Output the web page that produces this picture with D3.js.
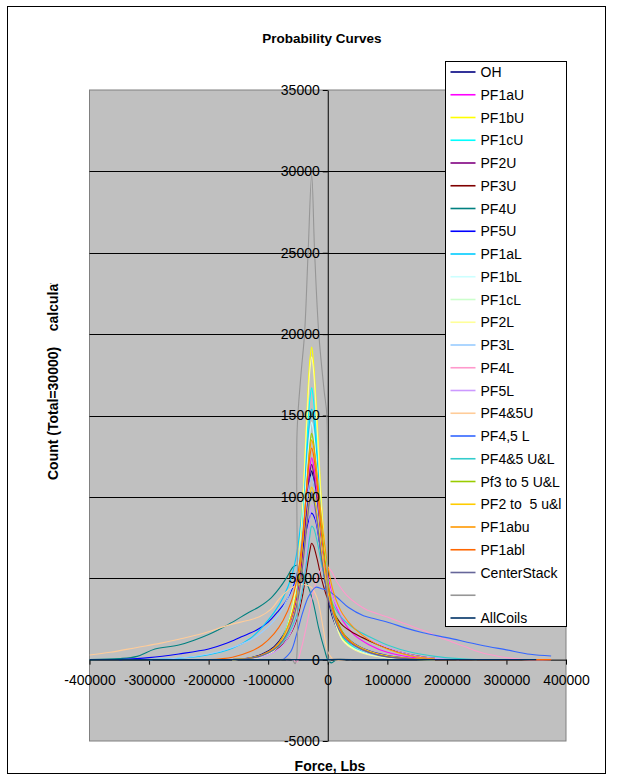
<!DOCTYPE html>
<html><head><meta charset="utf-8">
<script src="https://cdn.jsdelivr.net/npm/d3@7"></script>
<style>
body{margin:0;background:#fff}
svg{display:block}
text{font-family:"Liberation Sans",Arial,Helvetica,sans-serif;fill:#000}
</style>
</head><body>
<svg id="c" width="623" height="780"></svg>
<script>
// ---------- tick labels ----------
const X_TICKS = [-400000,-300000,-200000,-100000,0,100000,200000,300000,400000];
const Y_TICKS = [-5000,0,5000,10000,15000,20000,25000,30000,35000];
const GRID_VALUES = [5000,10000,15000,20000,25000,30000];

// ---------- series names (legend order) ----------
const SERIES_NAMES = ["OH","PF1aU","PF1bU","PF1cU","PF2U","PF3U","PF4U","PF5U","PF1aL","PF1bL","PF1cL","PF2L","PF3L","PF4L","PF5L","PF4&5U","PF4,5 L","PF4&5 U&L","Pf3 to 5 U&L","PF2 to  5 u&l","PF1abu","PF1abl","CenterStack","","AllCoils"];

// ---------- shared force grid for the narrow curves ----------
const GX = [-160000,-130000,-110000,-90000,-75000,-60000,-50000,-42000,-35000,-30000,-27000,-24000,-18000,-10000,0,10000,25000,45000,70000,100000,140000,180000];

const Y_OH          = [0,120,340,800,1500,2700,4300,6600,9400,11100,11600,11100,9300,6400,3800,2400,1300,800,420,180,50,0];
const Y_PF1aU       = [0,90,270,680,1350,2600,4300,6800,9800,11800,12400,12000,10400,7700,5200,3700,2400,1500,900,450,150,0];
const Y_PF1bU       = [0,60,200,600,1400,3200,5800,9900,15200,18400,19200,18300,14800,9400,4900,2700,1300,700,350,140,30,0];
const Y_PF1cU       = [0,70,230,650,1450,3100,5400,9000,13500,16000,16700,16000,13000,8600,4800,2800,1400,750,380,150,40,0];
const Y_PF2U        = [0,100,300,720,1400,2700,4400,6800,9800,11500,12000,11500,9700,6800,4200,2700,1500,900,480,200,60,0];
const Y_PF3U        = [0,80,220,520,950,1750,2700,4000,5600,6700,7150,7000,6200,4900,3700,2900,2100,1600,1150,700,300,80];
const Y_PF1bL       = [0,60,200,560,1300,2900,4900,8000,11600,13900,14600,14000,11600,7800,4400,2500,1200,650,320,120,30,0];
const Y_PF1cL       = [0,80,240,620,1300,2800,4700,7400,10800,12900,13600,13100,11000,7600,4500,2800,1500,850,450,180,50,0];
const Y_PF2L        = [0,50,180,560,1350,3100,5600,9600,14700,17800,18600,17800,14300,9000,4700,2600,1200,600,280,100,20,0];
const Y_PF3to5UL    = [0,100,280,700,1400,2800,4600,7300,10900,13200,13900,13400,11300,8000,4900,3100,1700,950,500,200,50,0];
const Y_PF2to5ul    = [0,90,270,660,1250,2400,3800,5900,8500,10100,10600,10300,8900,6500,4200,2800,1600,950,520,230,70,0];
const Y_PF1abu      = [0,100,300,720,1400,2800,4600,7300,10800,12900,13500,13100,11400,8500,5800,4100,2800,1900,1200,650,220,30];
const Y_CenterStack = [0,80,250,620,1200,2300,3700,5800,8300,9900,10300,9900,8500,6100,3900,2600,1450,850,430,170,40,0];

// ---------- curves with their own force values ----------
const X_PF4U = [-400000,-350000,-320000,-290000,-250000,-200000,-165000,-135000,-115000,-95000,-80000,-68000,-58000,-52000,-45000,-35000,-25000,-15000,-5000,0,6000,15000,30000];
const Y_PF4U = [0,60,200,650,900,1550,2200,2850,3250,3800,4450,5100,5700,5800,5500,4700,3600,1900,550,0,-200,0,0];

const X_PF5U = [-350000,-300000,-250000,-200000,-170000,-145000,-120000,-100000,-85000,-70000,-58000,-48000,-40000,-33000,-27000,-21000,-14000,-5000,5000,20000,40000,65000,100000,140000,180000];
const Y_PF5U = [0,120,350,650,1000,1400,1800,2300,2900,3600,4500,5800,7200,8400,9000,8600,7200,5000,3300,1900,1100,600,250,70,0];

const X_WIDE_L = [-300000,-250000,-200000,-160000,-130000,-110000,-90000,-75000,-60000,-50000,-42000,-35000,-30000,-27000,-24000,-18000,-10000,0,10000,25000,45000,70000,100000,140000,180000];
const Y_PF1aL  = [0,80,300,700,1300,2000,2900,3800,5200,7000,9600,12800,14800,15400,14900,12400,8600,5000,2900,1500,800,380,150,40,0];
const Y_PF3L   = [0,100,350,750,1200,1700,2400,3200,4500,6000,7800,9800,10900,11300,10900,9300,6600,4200,2700,1500,800,380,150,40,0];

const X_PF4L = [-70000,-58000,-52000,-45000,-35000,-25000,-15000,-5000,5000,15000,32000,50000,66000,85000,105000,130000,160000,200000,230000,256000,290000,330000,375000];
const Y_PF4L = [0,0,-150,600,2200,4000,5300,5800,5500,4800,3950,3400,3050,2800,2550,2200,1800,1200,800,450,180,0,0];

const X_PF5L = [-160000,-130000,-110000,-90000,-75000,-60000,-50000,-42000,-35000,-30000,-27000,-24000,-18000,-10000,0,10000,25000,45000,70000,100000,140000,180000,220000];
const Y_PF5L = [0,60,180,450,900,1800,2900,4500,6800,8700,9500,9300,8300,6500,4800,3700,2700,1900,1250,750,300,80,0];

const X_PF45U = [-400000,-365000,-320000,-282000,-250000,-210000,-164000,-135000,-114000,-95000,-80000,-65000,-50000,-38000,-28000,-18000,-8000,0,10000,30000];
const Y_PF45U = [280,450,750,1000,1250,1600,2150,2400,2650,3100,3800,4300,4600,4600,4450,3800,2000,500,0,0];

const X_PF45L = [-75000,-62000,-52000,-42000,-32000,-20000,-10000,0,15000,35000,60000,80000,105000,130000,160000,200000,256000,300000,340000,375000];
const Y_PF45L = [0,500,1600,2900,3900,4450,4350,4250,3850,3200,2700,2500,2250,1950,1650,1350,900,600,330,220];

const X_PF45UL = [-160000,-130000,-110000,-90000,-75000,-60000,-50000,-42000,-35000,-30000,-27000,-24000,-18000,-10000,0,10000,25000,45000,70000,100000,140000,180000,220000,250000];
const Y_PF45UL = [0,80,250,600,1100,2000,3000,4400,6200,7600,8200,8100,7300,5800,4300,3300,2500,1900,1400,900,450,200,60,0];

const X_PF1abl = [-200000,-160000,-130000,-110000,-90000,-75000,-60000,-50000,-42000,-35000,-30000,-27000,-24000,-18000,-10000,0,10000,25000,45000,70000,100000,140000,180000,250000,375000];
const Y_PF1abl = [0,150,500,900,1600,2400,3700,5300,7700,10700,12500,13000,12600,10800,7500,4600,2900,1600,900,450,180,50,0,0,0];

const X_BLANK = [-80000,-60000,-55000,-52500,-51500,-45000,-39000,-33000,-27000,-22000,-15000,-6000,-1500,-500,2000,5000,40000];
const Y_BLANK = [0,0,-250,0,14000,17500,20000,25000,29800,25000,20000,16500,15000,1500,-150,0,0];

const X_ALL = [-400000,-200000,0,200000,350000];
const Y_ALL = [0,0,0,0,0];

// ---------- colours ----------
const SERIES_COLORS = ["#000080","#FF00FF","#FFFF00","#00FFFF","#800080","#800000","#008080","#0000FF","#00CCFF","#CCFFFF","#CCFFCC","#FFFF99","#99CCFF","#FF99CC","#CC99FF","#FFCC99","#3366FF","#33CCCC","#99CC00","#FFCC00","#FF9900","#FF6600","#666699","#969696","#003366"];

const SERIES_XY = [
  [GX,Y_OH],[GX,Y_PF1aU],[GX,Y_PF1bU],[GX,Y_PF1cU],[GX,Y_PF2U],[GX,Y_PF3U],
  [X_PF4U,Y_PF4U],[X_PF5U,Y_PF5U],[X_WIDE_L,Y_PF1aL],[GX,Y_PF1bL],[GX,Y_PF1cL],[GX,Y_PF2L],
  [X_WIDE_L,Y_PF3L],[X_PF4L,Y_PF4L],[X_PF5L,Y_PF5L],[X_PF45U,Y_PF45U],[X_PF45L,Y_PF45L],
  [X_PF45UL,Y_PF45UL],[GX,Y_PF3to5UL],[GX,Y_PF2to5ul],[GX,Y_PF1abu],[X_PF1abl,Y_PF1abl],
  [GX,Y_CenterStack],[X_BLANK,Y_BLANK],[X_ALL,Y_ALL]
];
const series = SERIES_NAMES.map((n,i)=>({name:n,color:SERIES_COLORS[i],pts:SERIES_XY[i][0].map((xv,j)=>[xv,SERIES_XY[i][1][j]])}));

// ---------- drawing ----------
const svg = d3.select("#c");
const PL=89.5, PR=566, PT=90, PB=741;
const x = d3.scaleLinear().domain([-400000,400000]).range([PL,PR]);
const y = d3.scaleLinear().domain([-5000,35000]).range([PB,PT]);

svg.append("rect").attr("x",7.5).attr("y",6.5).attr("width",598).attr("height",767)
  .attr("fill","#fff").attr("stroke","#000").attr("stroke-width",1);

svg.append("text").attr("x",322).attr("y",43).attr("text-anchor","middle")
  .style("font-weight","bold").style("font-size","13.5px").text("Probability Curves");

svg.append("rect").attr("x",PL).attr("y",PT).attr("width",PR-PL).attr("height",PB-PT)
  .attr("fill","#C0C0C0").attr("stroke","#808080").attr("stroke-width",1);

svg.append("g").selectAll("line").data(GRID_VALUES).join("line")
  .attr("x1",PL).attr("x2",PR).attr("y1",d=>Math.round(y(d))+0.5).attr("y2",d=>Math.round(y(d))+0.5)
  .attr("stroke","#000").attr("stroke-width",1);

const fmt = d => String(d);
// axis lines + ticks (under series)
const gy = svg.append("g").attr("transform",`translate(${x(0)},0)`)
  .call(d3.axisLeft(y).tickValues(Y_TICKS).tickSize(5).tickSizeOuter(0).tickFormat(""));
const gx = svg.append("g").attr("transform",`translate(0,${y(0)})`)
  .call(d3.axisBottom(x).tickValues(X_TICKS).tickSize(5).tickSizeOuter(0).tickFormat(""));
[gy,gx].forEach(g=>{g.selectAll("path,line").attr("stroke","#000");});

// series
const line = d3.line().x(d=>x(d[0])).y(d=>y(d[1])).curve(d3.curveCatmullRom.alpha(0.5));
const defs = svg.append("defs");
defs.append("clipPath").attr("id","pc").append("rect")
  .attr("x",PL).attr("y",PT).attr("width",PR-PL).attr("height",PB-PT);
svg.append("g").attr("clip-path","url(#pc)").selectAll("path").data(series).join("path")
  .attr("d",d=>line(d.pts)).attr("fill","none").attr("stroke",d=>d.color).attr("stroke-width",1.1);

// tick labels on top
const ly = svg.append("g").attr("transform",`translate(${x(0)},0)`)
  .call(d3.axisLeft(y).tickValues(Y_TICKS).tickSize(5).tickFormat(fmt));
ly.select(".domain").remove(); ly.selectAll("line").remove();
ly.selectAll("text").style("font-size","14px").attr("font-family",null).attr("fill","#000");
const lx = svg.append("g").attr("transform",`translate(0,${y(0)})`)
  .call(d3.axisBottom(x).tickValues(X_TICKS).tickSize(5).tickFormat(fmt));
lx.select(".domain").remove(); lx.selectAll("line").remove();
lx.selectAll("text").attr("y",15).style("font-size","14px").attr("font-family",null).attr("fill","#000");

// axis titles
svg.append("text").attr("x",330).attr("y",771).attr("text-anchor","middle")
  .style("font-weight","bold").style("font-size","14px").text("Force, Lbs");
defs.append("clipPath").attr("id","yc").append("rect")
  .attr("x",20).attr("y",283).attr("width",60).attr("height",240);
svg.append("g").attr("clip-path","url(#yc)").append("text")
  .attr("transform","translate(58,480) rotate(-90)").attr("text-anchor","start")
  .style("font-weight","bold").style("font-size","14px").style("white-space","pre")
  .text("Count (Total=30000)    calculated");

// legend
const LX=445.5, LT=61.5, LW=121, LH=565, ROW=22.75;
svg.append("rect").attr("x",LX).attr("y",LT).attr("width",LW).attr("height",LH)
  .attr("fill","#fff").attr("stroke","#000").attr("stroke-width",1);
const lg = svg.append("g").selectAll("g").data(series).join("g")
  .attr("transform",(d,i)=>`translate(${LX},${72+i*ROW})`);
lg.append("line").attr("x1",5).attr("x2",30).attr("y1",0).attr("y2",0)
  .attr("stroke",d=>d.color).attr("stroke-width",1.6);
lg.append("text").attr("x",35).attr("y",5).style("font-size","14px").text(d=>d.name)
  .style("white-space","pre");
</script>
</body></html>
